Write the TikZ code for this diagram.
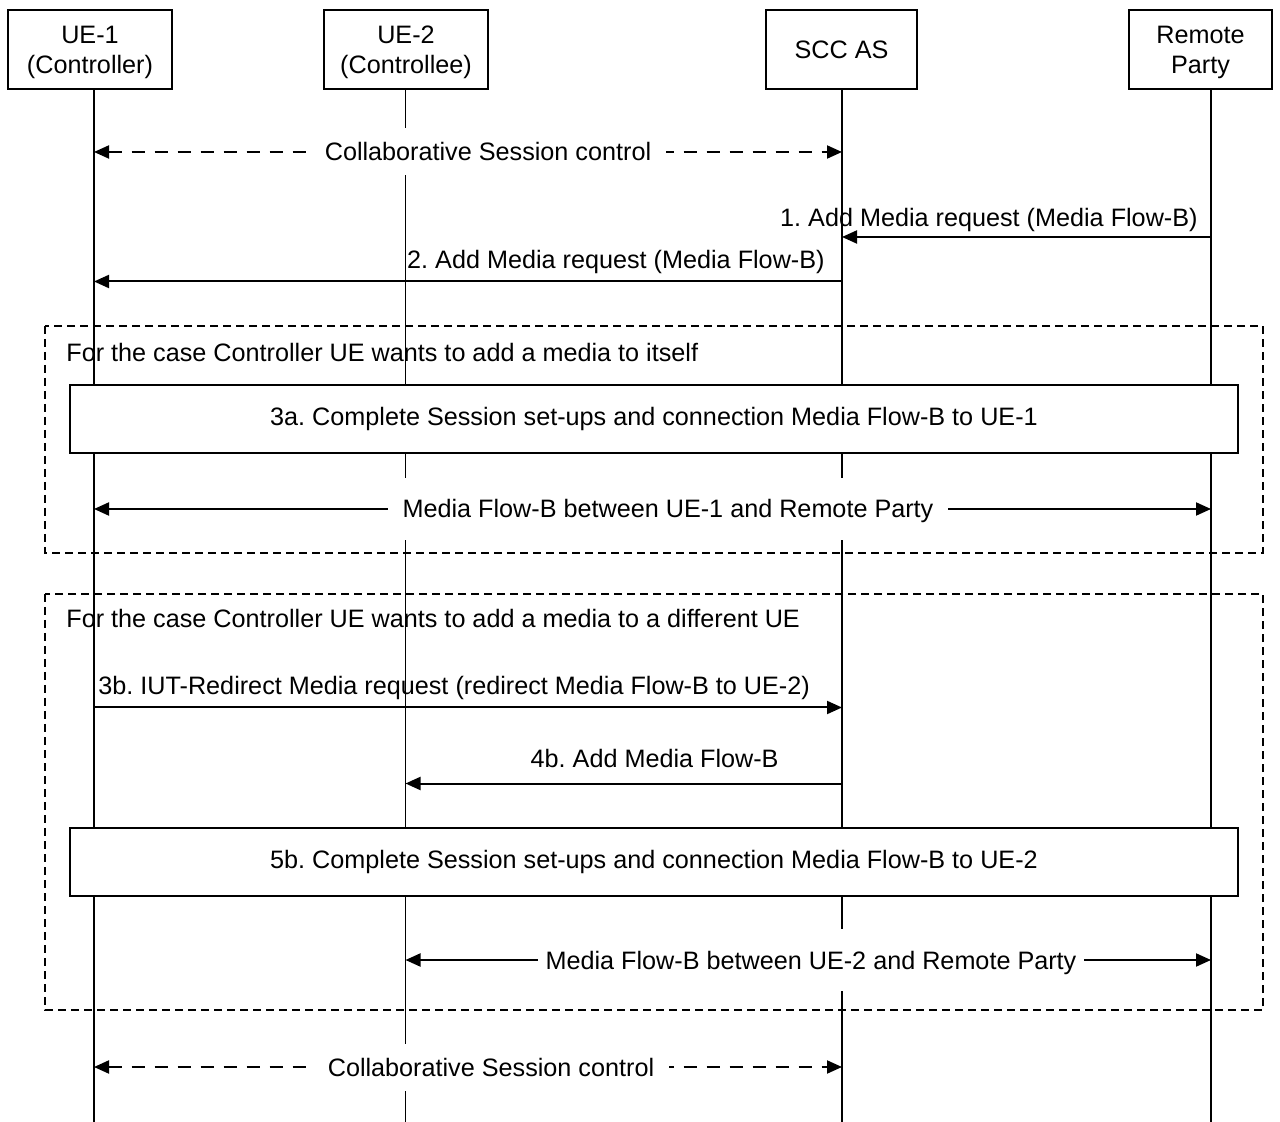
\documentclass[tikz,border=0pt]{standalone}
\usepackage{fontspec}
\setmainfont{Liberation Sans}
\usetikzlibrary{arrows.meta}

\begin{document}
\frenchspacing
\begin{tikzpicture}[
  x=0.5pt, y=-0.5pt,
  font=\fontsize{12.6}{15}\selectfont,
  entity/.style={
    draw=black,
    line width=0.8pt,
    align=center,
    minimum height=39.5pt,
    inner sep=0pt
  },
  twoline/.style={text height=24pt, text depth=0pt},
  lifeline/.style={line width=0.8pt},
  frame/.style={draw=black, line width=0.65pt, dash pattern=on 4pt off 2.5pt},
  stepbox/.style={
    draw=black,
    line width=0.8pt,
    fill=white,
    minimum width=584pt,
    minimum height=34pt,
    inner sep=0pt
  },
  msg/.style={-{Triangle[length=7.5pt,width=6.5pt]}, line width=1pt},
  flow/.style={{Triangle[length=7.5pt,width=6.5pt]}-{Triangle[length=7.5pt,width=6.5pt]}, line width=1pt},
  ctrlflow/.style={flow, dash pattern=on 6.5pt off 5pt},
  flowlabel/.style={fill=white, inner sep=0pt, text height=9pt, text depth=0pt},
  msglabel/.style={inner sep=0pt}
]
\useasboundingbox (0,0) rectangle (1280,1122);

\node[entity, twoline, minimum width=82pt] (ctrl) at (90,49.5) {UE-1\\(Controller)};
\node[entity, twoline, minimum width=82pt] (ctrlee) at (406,49.5) {UE-2\\(Controllee)};
\node[entity, minimum width=75.5pt] (scc) at (841.5,49.5) {SCC AS};
\node[entity, twoline, minimum width=71.5pt] (remote) at (1200.5,49.5) {Remote\\Party};

\coordinate (ue1) at (94,89);
\coordinate (ue2) at (405.5,89);
\coordinate (as) at (842,89);
\coordinate (rp) at (1211,89);
\coordinate (bottom) at (0,1122);
\foreach \l in {ue1,ue2,as,rp}
  \draw[lifeline] (\l) -- (\l |- bottom);

\draw[frame] (45,326) rectangle (1263,553);
\draw[frame] (45,594) rectangle (1263,1010);

\node[msglabel, anchor=base west] (caseA) at (66,361.5) {For the case Controller UE wants to add a media to itself};
\node[msglabel, anchor=base west] (caseB) at (66,628) {For the case Controller UE wants to add a media to a different UE};

\node[stepbox] (setupA) at (654,419) {3a. Complete Session set-ups and connection Media Flow-B to UE-1};
\node[stepbox] (setupB) at (654,862) {5b. Complete Session set-ups and connection Media Flow-B to UE-2};

\draw[ctrlflow] (ue1 |- 0,152) -- (as |- 0,152);
\draw[msg] (rp |- 0,237) -- (as |- 0,237);
\draw[msg] (as |- 0,281.5) -- (ue1 |- 0,281.5);
\draw[flow] (ue1 |- 0,509) -- (rp |- 0,509);
\draw[msg] (ue1 |- 0,707.5) -- (as |- 0,707.5);
\draw[msg] (as |- 0,783.5) -- (ue2 |- 0,783.5);
\draw[flow] (ue2 |- 0,960) -- (rp |- 0,960);
\draw[ctrlflow] (ue1 |- 0,1067) -- (as |- 0,1067);

\node[flowlabel, minimum width=178pt, minimum height=23.5pt] (ctrlA) at (488,152) {Collaborative Session control};
\node[msglabel, anchor=base east] (add1) at (1198,227) {1. Add Media request (Media Flow-B)};
\node[msglabel, anchor=base east] (add2) at (825,269) {2. Add Media request (Media Flow-B)};
\node[flowlabel, minimum width=280pt, minimum height=31pt] (flowA) at (668,509) {Media Flow-B between UE-1 and Remote Party};
\node[msglabel, anchor=base west] (redirect) at (98,695) {3b. IUT-Redirect Media request (redirect Media Flow-B to UE-2)};
\node[msglabel, anchor=base east] (add4) at (779,768) {4b. Add Media Flow-B};
\node[flowlabel, minimum width=273pt, minimum height=31pt] (flowB) at (811,960) {Media Flow-B between UE-2 and Remote Party};
\node[flowlabel, minimum width=178pt, minimum height=23.5pt] (ctrlB) at (491,1067) {Collaborative Session control};

\end{tikzpicture}
\end{document}
